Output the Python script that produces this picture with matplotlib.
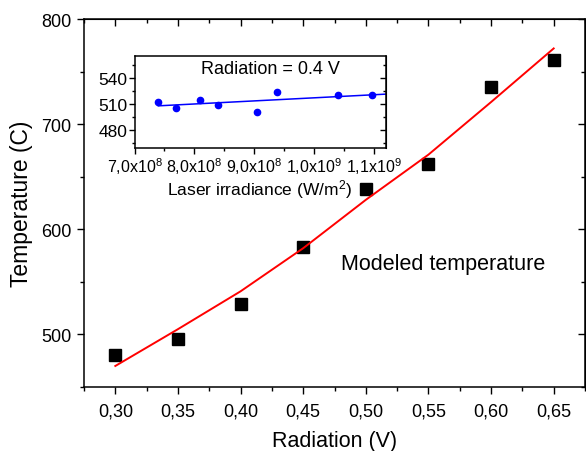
#!/usr/bin/env python3

"""
plot.py
"""

import numpy as np
from matplotlib import pyplot as plt
from matplotlib.ticker import FuncFormatter, MultipleLocator

plt.rcParams['font.family'] = ['Liberation Sans', 'DejaVu Sans']
plt.rcParams['mathtext.fontset'] = 'custom'
plt.rcParams['mathtext.rm'] = 'Liberation Sans'
plt.rcParams['mathtext.it'] = 'Liberation Sans'

# Measured temperature vs radiation signal
radiation = [0.30, 0.35, 0.40, 0.45, 0.50, 0.55, 0.60, 0.65]
temperature = [480, 496, 529, 583, 638, 662, 735, 761]

# Modeled temperature (red curve)
model_radiation = [0.30, 0.35, 0.40, 0.45, 0.50, 0.55, 0.60, 0.65]
model_temperature = [470, 505, 541, 582, 628, 671, 721, 772]

# Inset: temperature vs laser irradiance at 0.4 V
irradiance = [7.40e8, 7.70e8, 8.10e8, 8.40e8, 9.05e8, 9.39e8, 1.040e9, 1.098e9]
inset_temperature = [512.0, 505.6, 514.6, 508.8, 500.4, 524.2, 520.0, 520.4]


def comma(value, pos):
  return '{:.2f}'.format(value).replace('.', ',')


def sci(value, pos):
  exp = int(np.floor(np.log10(value)))
  mant = value / 10 ** exp
  return '{:.1f}x10$^{{{}}}$'.format(mant, exp).replace('.', ',')


fig = plt.figure(figsize=(5.86, 4.52), dpi=100)
ax = fig.add_axes([84 / 586, 64 / 452, 501 / 586, 368 / 452])

ax.plot(radiation, temperature, 's', color='black', markersize=8)
ax.plot(model_radiation, model_temperature, '-', color='red', linewidth=1.4)
ax.text(0.48, 567, 'Modeled temperature', fontsize=15.5, va='center', ha='left')

ax.set_xlim(0.275, 0.675)
ax.set_ylim(450, 800)
ax.xaxis.set_major_locator(MultipleLocator(0.05))
ax.xaxis.set_minor_locator(MultipleLocator(0.025))
ax.yaxis.set_major_locator(MultipleLocator(100))
ax.yaxis.set_minor_locator(MultipleLocator(50))
ax.xaxis.set_major_formatter(FuncFormatter(comma))
ax.set_xlabel('Radiation (V)', fontsize=15.5, labelpad=8)
ax.set_ylabel('Temperature (C)', fontsize=16.5, labelpad=6)
for side in ax.spines.values():
  side.set_linewidth(1.1)
ax.tick_params(which='both', direction='out', width=1.0, labelsize=13)
ax.tick_params(which='major', length=5, pad=4)
ax.tick_params(which='minor', length=3)
ax.tick_params(axis='x', which='major', pad=6)
# Mirrored ticks on top/right point inward
top = ax.secondary_xaxis('top')
top.set_xticks(np.arange(0.30, 0.676, 0.05))
top.xaxis.set_minor_locator(MultipleLocator(0.025))
top.tick_params(which='both', direction='in', labeltop=False, width=1.0)
top.tick_params(which='major', length=5)
top.tick_params(which='minor', length=3)
right = ax.secondary_yaxis('right')
right.set_yticks([500, 600, 700, 800])
right.yaxis.set_minor_locator(MultipleLocator(50))
right.tick_params(which='both', direction='in', labelright=False, width=1.0)
right.tick_params(which='major', length=5)
right.tick_params(which='minor', length=3)

# Inset
ins = fig.add_axes([134.5 / 586, 303 / 452, 251 / 586, 92 / 452])
ins.plot(irradiance, inset_temperature, 'o', color='#0000ff', markersize=4.5)
slope, icept = np.polyfit(irradiance, inset_temperature, 1)
fit_x = np.array([min(irradiance), 1.12e9])
ins.plot(fit_x, slope * fit_x + icept, '-', color='#0000ff', linewidth=1.1)
ins.text(0.542, 0.86, 'Radiation = 0.4 V', transform=ins.transAxes,
         fontsize=13, ha='center', va='center')
ins.set_xlim(7.0e8, 1.12e9)
ins.set_ylim(459, 565.5)
ins.xaxis.set_major_locator(MultipleLocator(1e8))
ins.xaxis.set_minor_locator(MultipleLocator(5e7))
ins.yaxis.set_major_locator(MultipleLocator(30))
ins.yaxis.set_minor_locator(MultipleLocator(15))
ins.xaxis.set_major_formatter(FuncFormatter(sci))
ins.set_xlabel('Laser irradiance (W/m$^2$)', fontsize=12.5, labelpad=1)
for side in ins.spines.values():
  side.set_linewidth(1.1)
ins.tick_params(which='both', direction='out', width=1.0, labelsize=12.5, pad=1)
ins.tick_params(axis='x', labelsize=11.5)
ins.tick_params(which='major', length=4)
ins.tick_params(which='minor', length=2.5)
ins_right = ins.secondary_yaxis('right')
ins_right.set_yticks([480, 510, 540])
ins_right.yaxis.set_minor_locator(MultipleLocator(15))
ins_right.tick_params(which='both', direction='in', labelright=False, width=1.0)
ins_right.tick_params(which='major', length=4)
ins_right.tick_params(which='minor', length=2.5)

fig.savefig('out.png', dpi=100)
